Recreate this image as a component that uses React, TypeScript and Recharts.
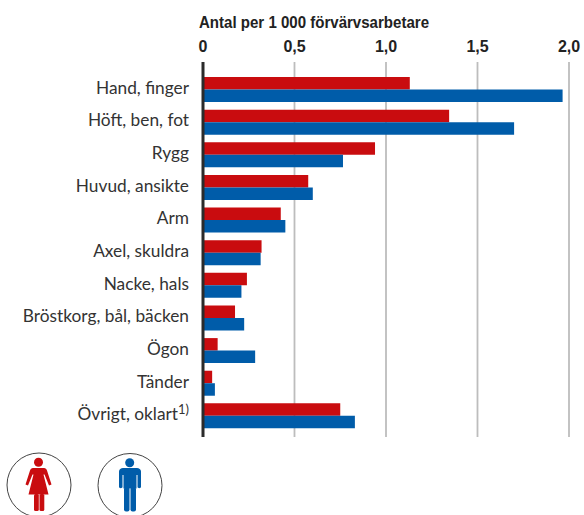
import React from 'react';
import { BarChart, Bar, XAxis, YAxis, CartesianGrid } from 'recharts';

const categories = ['Hand, finger', 'Höft, ben, fot', 'Rygg', 'Huvud, ansikte', 'Arm', 'Axel, skuldra', 'Nacke, hals', 'Bröstkorg, bål, bäcken', 'Ögon', 'Tänder', 'Övrigt, oklart'];
const women = [1.13, 1.345, 0.94, 0.575, 0.425, 0.32, 0.24, 0.175, 0.08, 0.05, 0.75];
const men = [1.965, 1.7, 0.765, 0.6, 0.45, 0.315, 0.21, 0.225, 0.285, 0.065, 0.83];
const xTicks = [0, 0.5, 1, 1.5, 2];

const data = categories.map((name, i) => ({ name, women: women[i], men: men[i] }));

const RED = '#c90c0f';
const BLUE = '#005ca9';
const labelFont = 'Lato, sans-serif';
const titleFont = '"Liberation Sans", sans-serif';

const CategoryTick = ({ x, y, payload }: any) => (
  <text x={x} y={y + 4.5} textAnchor="end" fontFamily={labelFont} fontSize={17.3} fill="#333">
    {payload.value}
    {payload.value === 'Övrigt, oklart' && (
      <tspan dy={-6} fontSize={13}>1)</tspan>
    )}
  </text>
);

const Woman = () => (
  <g fill={RED}>
    <circle cx={38.5} cy={462.3} r={4.5} />
    <path d="M33 468h11c1.5 0 2.5 1 3 2.5l4.500 14-2.500 1-4.500-11-1 0 5 20h-20l5-20-1 0-4.500 11-2.500-1 4.500-14c.5-1.500 1.500-2.500 3-2.500z" />
    <rect x={34} y={494} width={4.8} height={17} rx={1.500} />
    <rect x={39.5} y={494} width={4.8} height={17} rx={1.500} />
  </g>
);

const Man = () => (
  <g fill={BLUE}>
    <circle cx={129.7} cy={462.700} r={4.500} />
    <path d="M123 468h14c2 0 4 1.500 4 3.500v15.500c0 1.500-3.500 1.500-3.500 0v-12h-1v13.500h-13v-13.500h-1v12c0 1.500-3.500 1.500-3.500 0v-15.500c0-2 2-3.500 4-3.500z" />
    <rect x={124} y={487} width={5.500} height={24.500} rx={2} />
    <rect x={130.500} y={487} width={5.500} height={24.500} rx={2} />
  </g>
);

const App: React.FC = () => (
  <div style={{ position: 'relative', width: 584, height: 515, overflow: 'hidden' }}>
    <style>{'body { margin: 0; }'}</style>
    <BarChart
      width={584}
      height={515}
      data={data}
      layout="vertical"
      barSize={12.5}
      barGap={0}
      margin={{ top: 42, right: 15, bottom: 78, left: 0 }}
    >
      <CartesianGrid horizontal={false} stroke="#bdbdbd" strokeWidth={1.8} />
      <XAxis
        type="number"
        orientation="top"
        domain={[0, 2]}
        ticks={xTicks}
        height={20}
        axisLine={false}
        tickLine={false}
        tickMargin={4}
        interval={0}
        tickFormatter={(v: number) => (v === 0 ? '0' : v.toFixed(1).replace('.', ','))}
        tick={{ fill: '#222', fontSize: 16, fontWeight: 700, fontFamily: titleFont }}
      />
      <YAxis
        type="category"
        dataKey="name"
        width={203}
        interval={0}
        padding={{ top: 11, bottom: 5 }}
        axisLine={{ stroke: '#2b2b2b', strokeWidth: 3 }}
        tickLine={false}
        tickMargin={8}
        tick={<CategoryTick />}
      />
      <Bar dataKey="women" fill={RED} isAnimationActive={false} />
      <Bar dataKey="men" fill={BLUE} isAnimationActive={false} />
    </BarChart>
    <svg width={584} height={515} style={{ position: 'absolute', left: 0, top: 0, pointerEvents: 'none' }}>
      <text x={199} y={28} fontFamily={titleFont} fontSize={16.5} fontWeight={700} fill="#222" textLength={230} lengthAdjust="spacingAndGlyphs">
        Antal per 1 000 förvärvsarbetare
      </text>
      <circle cx={39} cy={485} r={32} fill="none" stroke="#444" strokeWidth={1} />
      <circle cx={130} cy={485.500} r={32} fill="none" stroke="#444" strokeWidth={1} />
      <Woman />
      <Man />
    </svg>
  </div>
);

export default App;
